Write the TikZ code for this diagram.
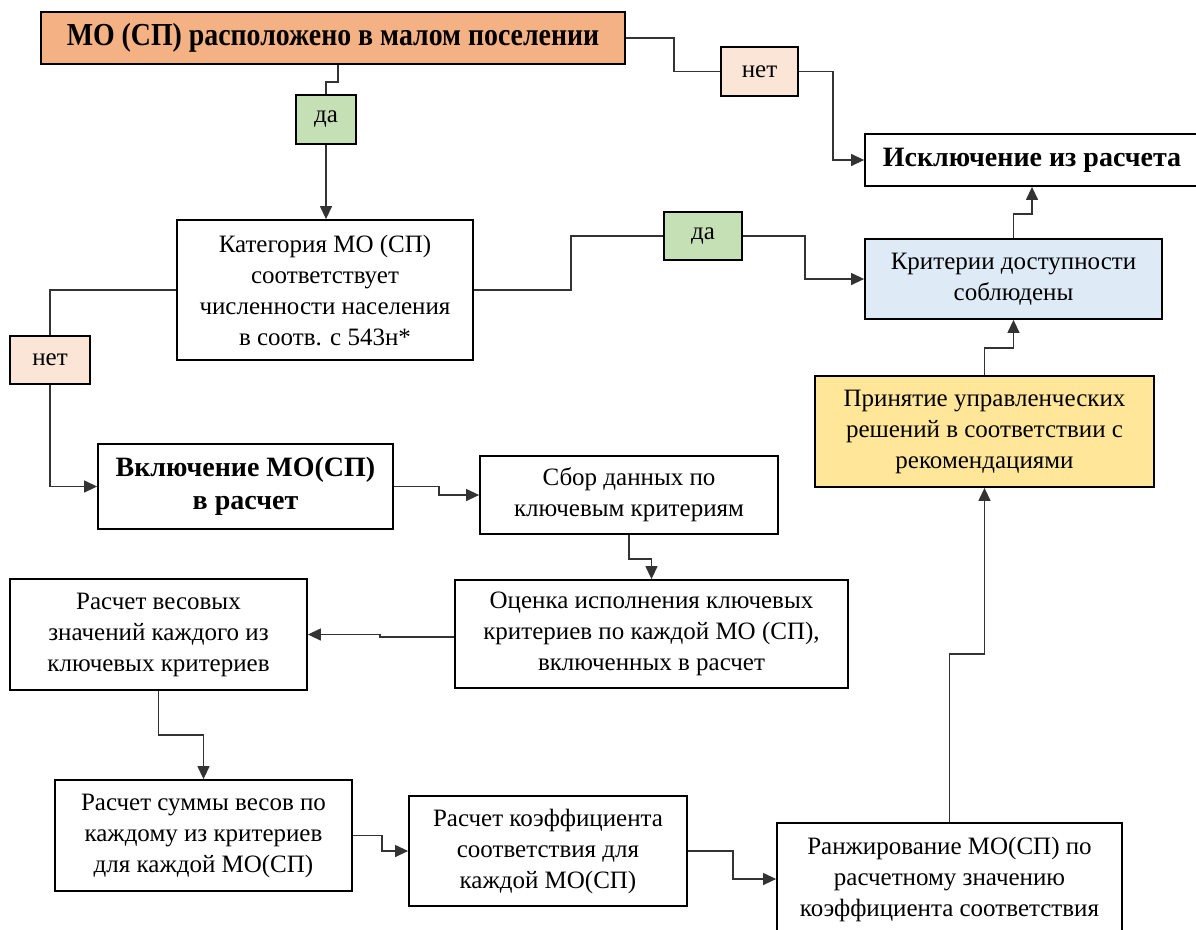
\documentclass[tikz,border=0pt]{standalone}
\usepackage{fontspec}
\setmainfont{Liberation Serif}
\newfontfamily\titlefont{Liberation Serif}[FakeStretch=0.87]
\usetikzlibrary{arrows.meta}
\definecolor{orangebox}{HTML}{F4B183}
\definecolor{peachbox}{HTML}{FBE5D6}
\definecolor{greenbox}{HTML}{C5E0B4}
\definecolor{bluebox}{HTML}{DEEBF7}
\definecolor{yellowbox}{HTML}{FFE699}
\newcommand\fnorm{\fontsize{25}{31}\selectfont}
\newcommand\fbig{\titlefont\fontsize{32}{36}\selectfont\bfseries}
\newcommand\fmid{\fontsize{28}{33}\selectfont\bfseries}
\tikzset{
  box/.style={draw=black, line width=1.8pt, align=center, inner sep=0pt, font=\fnorm, anchor=center},
  line/.style={draw=black!80, line width=1.3pt},
  arr/.style={line, -{Triangle[length=13pt,width=12pt]}}
}
\begin{document}
\begin{tikzpicture}[x=1pt,y=-1pt]
\useasboundingbox (0,0) rectangle (1196,929);
\node[box, fill=orangebox, minimum width=584pt, minimum height=52pt, font=\fbig] (top) at (333,38) {МО (СП) расположено в малом поселении};
\node[box, fill=peachbox, minimum width=77pt, minimum height=49pt] (no1) at (759.5,71.5) {нет};
\node[box, fill=greenbox, minimum width=60pt, minimum height=49pt] (yes1) at (326,119.5) {да};
\node[box, minimum width=334pt, minimum height=52pt, font=\fmid] (excl) at (1032,160) {Исключение из расчета};
\node[box, minimum width=296pt, minimum height=140pt] (cat) at (325,290) {Категория МО (СП)\\соответствует\\численности населения\\в соотв. с 543н*};
\node[box, fill=greenbox, minimum width=78pt, minimum height=48pt] (yes2) at (703,236) {да};
\node[box, fill=bluebox, minimum width=297pt, minimum height=80pt] (crit) at (1013.5,279) {Критерии доступности\\соблюдены};
\node[box, fill=peachbox, minimum width=80pt, minimum height=48pt] (no2) at (50,360) {нет};
\node[box, fill=yellowbox, minimum width=339pt, minimum height=111pt] (prin) at (984.5,431.5) {Принятие управленческих\\решений в соответствии с\\рекомендациями};
\node[box, minimum width=295pt, minimum height=85pt, font=\fmid] (incl) at (245.5,486.5) {Включение МО(СП)\\в расчет};
\node[box, minimum width=298pt, minimum height=78pt] (sbor) at (629,495) {Сбор данных по\\ключевым критериям};
\node[box, minimum width=393pt, minimum height=108pt] (ocen) at (651.5,634) {Оценка исполнения ключевых\\критериев по каждой МО (СП),\\включенных в расчет};
\node[box, minimum width=297pt, minimum height=111pt] (ves) at (158.5,634.5) {Расчет весовых\\значений каждого из\\ключевых критериев};
\node[box, minimum width=297pt, minimum height=111pt] (summ) at (203.5,835.5) {Расчет суммы весов по\\каждому из критериев\\для каждой МО(СП)};
\node[box, minimum width=278pt, minimum height=110pt] (koef) at (548,851) {Расчет коэффициента\\соответствия для\\каждой МО(СП)};
\node[box, minimum width=345pt, minimum height=112pt] (rank) at (949.5,879) {Ранжирование МО(СП) по\\расчетному значению\\коэффициента соответствия};

\draw[line] ([xshift=5pt]top.south) -- ++(0,17) -| (yes1.north);
\draw[arr] (yes1.south) -- (yes1.south |- cat.north);
\draw[line] (top.east) -- ++(48,0) |- (no1.west);
\draw[arr] (no1.east) -- ++(34,0) |- (excl.west);
\draw[line] (cat.east) -- ++(97,0) |- (yes2.west);
\draw[arr] (yes2.east) -- ++(62,0) |- (crit.west);
\draw[arr] (crit.north) -- ++(0,-24) -| (excl.south);
\draw[line] (cat.west) -| (no2.north);
\draw[arr] (no2.south) |- (incl.west);
\draw[arr] (incl.east) -- ++(45,0) |- (sbor.west);
\draw[arr] (sbor.south) -- ++(0,24) -| (ocen.north);
\draw[arr] ([yshift=-3pt]ocen.west) -- ++(-74,0) |- (ves.east);
\draw[arr] (ves.south) -- ++(0,44) -| (summ.north);
\draw[arr] (summ.east) -- ++(29,0) |- (koef.west);
\draw[arr] (koef.east) -- ++(45,0) |- (rank.west);
\draw[arr] (rank.north) -- ++(0,-168) -| (prin.south);
\draw[arr] (prin.north) -- ++(0,-27) -| (crit.south);
\end{tikzpicture}
\end{document}
